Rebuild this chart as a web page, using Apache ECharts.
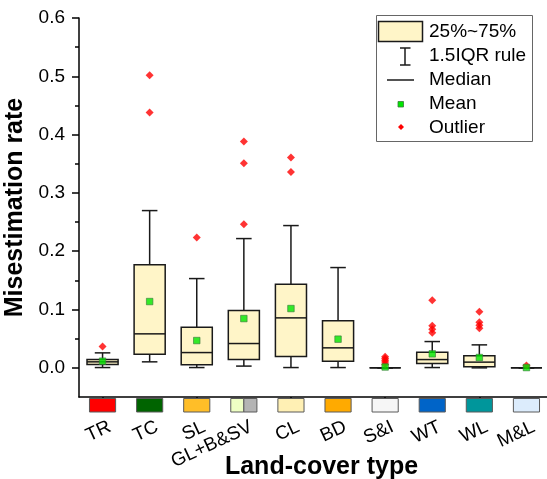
<!DOCTYPE html>
<html><head><meta charset="utf-8">
<script src="https://cdn.jsdelivr.net/npm/echarts@6/dist/echarts.min.js"></script>
<style>html,body{margin:0;padding:0;background:#fff}#c{width:547px;height:479px}</style>
</head><body><div id="c"></div>
<script>
// ---- data ----
const categories = ['TR', 'TC', 'SL', 'GL+B&SV', 'CL', 'BD', 'S&I', 'WT', 'WL', 'M&L'];
const whiskerLow  = [0.0005, 0.0103, 0.0005, 0.003,  0.0005, 0.0005, 0, 0.0005, 0,      0];
const q1Values    = [0.0057, 0.0235, 0.0051, 0.0142, 0.0194, 0.0114, 0, 0.0074, 0.0017, 0];
const medians     = [0.0103, 0.0583, 0.0262, 0.0417, 0.0857, 0.0343, 0, 0.0142, 0.0098, 0];
const q3Values    = [0.0142, 0.1766, 0.0698, 0.0982, 0.1435, 0.0806, 0, 0.0269, 0.0206, 0];
const whiskerHigh = [0.0257, 0.2697, 0.1531, 0.2217, 0.244,  0.172,  0, 0.0451, 0.0394, 0];
const means       = [0.0114, 0.1137, 0.0468, 0.0845, 0.1017, 0.0492, 0.0015, 0.024, 0.0177, 0.0005];
const outliers = [
  [0.0365],
  [0.502, 0.438],
  [0.2234],
  [0.388, 0.351, 0.2463],
  [0.3606, 0.336],
  [],
  [0.019, 0.016, 0.013, 0.01, 0.006],
  [0.116, 0.072, 0.066, 0.060],
  [0.096, 0.078, 0.073, 0.068],
  [0.004]
];
const yTickLabels = [0, 0.1, 0.2, 0.3, 0.4, 0.5, 0.6];
const yMinorTicks = [0.05, 0.15, 0.25, 0.35, 0.45, 0.55];
const yMin = -0.05, yMax = 0.6;
// swatch colours (style)
const swatchColors = ['#ff0000', '#006400', '#ffbe28', ['#eeffc4', '#b4b4b4'], '#fff0b4', '#ffaa00', '#f6f6f6', '#0064c8', '#00969b', '#dcecfc'];

const FONT = 'Liberation Sans, Arial, sans-serif';
const BOX_FILL = '#fff5c8';
const INK = '#1a1a1a';

const boxData = categories.map((c, i) => [i, whiskerLow[i], q1Values[i], medians[i], q3Values[i], whiskerHigh[i]]);
const meanData = categories.map((c, i) => [i, means[i]]);
const outlierData = [];
outliers.forEach((arr, i) => arr.forEach(v => outlierData.push([i, v])));
const swatchData = categories.map((c, i) => [i, yMin]);

const chart = echarts.init(document.getElementById('c'), null, {renderer: 'canvas'});

function renderBox(params, api) {
  const i = api.value(0);
  const band = api.size([1, 0])[0];
  const bw = band * 0.66;
  const cap = bw * 0.5;
  const p = k => api.coord([i, api.value(k)]);
  const lo = p(1), a = p(2), m = p(3), b = p(4), hi = p(5);
  const x = lo[0];
  const ls = {stroke: INK, lineWidth: 1.5, fill: null};
  return {
    type: 'group',
    children: [
      {type: 'line', shape: {x1: x, y1: hi[1], x2: x, y2: b[1]}, style: ls},
      {type: 'line', shape: {x1: x, y1: a[1], x2: x, y2: lo[1]}, style: ls},
      {type: 'line', shape: {x1: x - cap / 2, y1: hi[1], x2: x + cap / 2, y2: hi[1]}, style: ls},
      {type: 'line', shape: {x1: x - cap / 2, y1: lo[1], x2: x + cap / 2, y2: lo[1]}, style: ls},
      {type: 'rect', shape: {x: x - bw / 2, y: b[1], width: bw, height: a[1] - b[1]}, style: {fill: BOX_FILL, stroke: INK, lineWidth: 1.5}},
      {type: 'line', shape: {x1: x - bw / 2, y1: m[1], x2: x + bw / 2, y2: m[1]}, style: ls}
    ]
  };
}

function renderSwatch(params, api) {
  const i = api.value(0);
  const band = api.size([1, 0])[0];
  const w = band * 0.555;
  const base = api.coord([i, api.value(1)]);
  const x = base[0], y0 = base[1] + 1.5, h = 13.5;
  const col = swatchColors[i];
  const children = [];
  if (Array.isArray(col)) {
    children.push({type: 'rect', shape: {x: x - w / 2, y: y0, width: w / 2, height: h}, style: {fill: col[0], stroke: '#5a5a5a', lineWidth: 1}});
    children.push({type: 'rect', shape: {x: x, y: y0, width: w / 2, height: h}, style: {fill: col[1], stroke: '#5a5a5a', lineWidth: 1}});
  } else {
    children.push({type: 'rect', shape: {x: x - w / 2, y: y0, width: w, height: h}, style: {fill: col, stroke: '#5a5a5a', lineWidth: 1}});
  }
  children.push({
    type: 'text', x: x + 7.5, y: base[1] + 29, rotation: 25 * Math.PI / 180,
    style: {text: categories[i], x: 0, y: 0, align: 'right', verticalAlign: 'middle', font: '19px ' + FONT, fill: '#000'}
  });
  return {type: 'group', children};
}

const legendGraphic = [
  {type: 'rect', shape: {x: 376.5, y: 15.5, width: 156, height: 126}, style: {fill: '#fff', stroke: '#666', lineWidth: 1}, z: 100},
  {type: 'rect', shape: {x: 378.5, y: 21.5, width: 44, height: 20}, style: {fill: BOX_FILL, stroke: INK, lineWidth: 1.5}, z: 101},
  {type: 'line', shape: {x1: 405, y1: 48, x2: 405, y2: 65}, style: {stroke: INK, lineWidth: 1.5}, z: 101},
  {type: 'line', shape: {x1: 400, y1: 48, x2: 410.5, y2: 48}, style: {stroke: INK, lineWidth: 1.5}, z: 101},
  {type: 'line', shape: {x1: 400, y1: 65, x2: 410.5, y2: 65}, style: {stroke: INK, lineWidth: 1.5}, z: 101},
  {type: 'line', shape: {x1: 387, y1: 80, x2: 414, y2: 80}, style: {stroke: INK, lineWidth: 1.5}, z: 101},
  {type: 'rect', shape: {x: 398, y: 101.5, width: 5.5, height: 5.5}, style: {fill: '#00e600', stroke: '#3a7a3a', lineWidth: 0.8}, z: 101},
  {type: 'polygon', shape: {points: [[401, 124], [404, 127], [401, 130], [398, 127]]}, style: {fill: '#ff0000'}, z: 101},
  {type: 'text', x: 429, y: 32, style: {text: '25%~75%', font: '19px ' + FONT, fill: '#000', verticalAlign: 'middle'}, z: 101},
  {type: 'text', x: 429, y: 56, style: {text: '1.5IQR rule', font: '19px ' + FONT, fill: '#000', verticalAlign: 'middle'}, z: 101},
  {type: 'text', x: 429, y: 80, style: {text: 'Median', font: '19px ' + FONT, fill: '#000', verticalAlign: 'middle'}, z: 101},
  {type: 'text', x: 429, y: 104, style: {text: 'Mean', font: '19px ' + FONT, fill: '#000', verticalAlign: 'middle'}, z: 101},
  {type: 'text', x: 429, y: 127.5, style: {text: 'Outlier', font: '19px ' + FONT, fill: '#000', verticalAlign: 'middle'}, z: 101}
];

const axisLineStyle = {color: '#000', width: 1.5};

chart.setOption({
  animation: false,
  backgroundColor: '#fff',
  grid: {left: 79, top: 18, width: 471, height: 379, containLabel: false, outerBoundsMode: 'none'},
  xAxis: {
    type: 'category', data: categories, boundaryGap: true,
    axisLine: {show: true, onZero: false, lineStyle: axisLineStyle},
    axisTick: {show: true, alignWithLabel: true, length: 3, lineStyle: {color: '#000', width: 1.5}},
    axisLabel: {show: false},
    splitLine: {show: false},
    name: 'Land-cover type', nameLocation: 'middle', nameGap: 58,
    nameTextStyle: {fontSize: 25, fontWeight: 'bold', color: '#000', fontFamily: FONT, padding: [0, 0, 0, 14]}
  },
  yAxis: [
    {
      type: 'value', min: yMin, max: yMax,
      axisLine: {show: true, lineStyle: axisLineStyle},
      axisTick: {show: true, length: 7, customValues: yTickLabels, lineStyle: {color: '#000', width: 1.5}},
      axisLabel: {show: true, customValues: yTickLabels, formatter: v => v.toFixed(1), fontSize: 19, color: '#000', fontFamily: FONT, margin: 14},
      splitLine: {show: false},
      name: 'Misestimation rate', nameLocation: 'middle', nameGap: 50,
      nameTextStyle: {fontSize: 25, fontWeight: 'bold', color: '#000', fontFamily: FONT}
    },
    {
      type: 'value', min: yMin, max: yMax, position: 'left', offset: 0,
      axisLine: {show: false},
      axisTick: {show: true, length: 4, customValues: yMinorTicks, lineStyle: {color: '#000', width: 1.5}},
      axisLabel: {show: false},
      splitLine: {show: false}
    }
  ],
  series: [
    {type: 'custom', name: 'box', data: boxData, encode: {x: 0, y: [1, 2, 3, 4, 5]}, renderItem: renderBox, z: 2},
    {type: 'scatter', name: 'Outlier', data: outlierData, symbol: 'diamond', symbolSize: 8, itemStyle: {color: '#ff0000'}, z: 3},
    {type: 'scatter', name: 'Mean', data: meanData, symbol: 'rect', symbolSize: 6.5, itemStyle: {color: '#00e600', borderColor: '#3a7a3a', borderWidth: 0.8}, z: 4},
    {type: 'custom', name: 'swatch', data: swatchData, encode: {x: 0, y: 1}, renderItem: renderSwatch, clip: false, z: 5}
  ],
  graphic: legendGraphic
});
</script>
</body></html>
